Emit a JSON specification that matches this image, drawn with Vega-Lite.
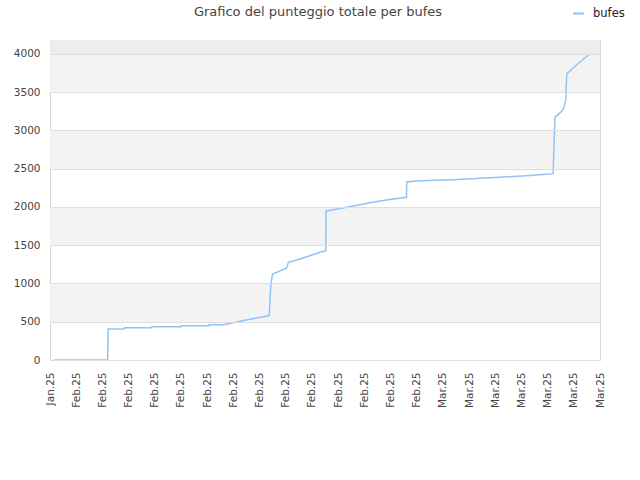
{
  "$schema": "https://vega.github.io/schema/vega-lite/v6.json",
  "description": "Grafico del punteggio totale per bufes",
  "autosize": "none",
  "width": 550,
  "height": 320,
  "padding": {"left": 50, "top": 40, "right": 40, "bottom": 120},
  "background": "white",
  "title": {
    "text": "Grafico del punteggio totale per bufes",
    "anchor": "middle",
    "frame": "group",
    "dx": -7,
    "dy": 12,
    "offset": 0,
    "font": "DejaVu Sans",
    "fontSize": 13,
    "fontWeight": "normal",
    "color": "#444444"
  },
  "datasets": {
    "bands": [
      {"y0": 500, "y1": 1000, "band": "a"},
      {"y0": 1500, "y1": 2000, "band": "a"},
      {"y0": 2500, "y1": 3000, "band": "a"},
      {"y0": 3500, "y1": 4000, "band": "a"},
      {"y0": 4000, "y1": 4183, "band": "b"}
    ],
    "points": [
      {"i": 0.16, "punti": 0, "player": "bufes"},
      {"i": 2.2, "punti": 0, "player": "bufes"},
      {"i": 2.22, "punti": 405, "player": "bufes"},
      {"i": 2.83, "punti": 405, "player": "bufes"},
      {"i": 2.84, "punti": 423, "player": "bufes"},
      {"i": 3.88, "punti": 423, "player": "bufes"},
      {"i": 3.89, "punti": 436, "player": "bufes"},
      {"i": 5.0, "punti": 436, "player": "bufes"},
      {"i": 5.01, "punti": 449, "player": "bufes"},
      {"i": 6.07, "punti": 449, "player": "bufes"},
      {"i": 6.08, "punti": 462, "player": "bufes"},
      {"i": 6.64, "punti": 462, "player": "bufes"},
      {"i": 7.0, "punti": 488, "player": "bufes"},
      {"i": 7.32, "punti": 510, "player": "bufes"},
      {"i": 7.64, "punti": 532, "player": "bufes"},
      {"i": 7.95, "punti": 553, "player": "bufes"},
      {"i": 8.37, "punti": 579, "player": "bufes"},
      {"i": 8.43, "punti": 980, "player": "bufes"},
      {"i": 8.49, "punti": 1120, "player": "bufes"},
      {"i": 9.04, "punti": 1203, "player": "bufes"},
      {"i": 9.05, "punti": 1215, "player": "bufes"},
      {"i": 9.1, "punti": 1277, "player": "bufes"},
      {"i": 9.55, "punti": 1320, "player": "bufes"},
      {"i": 10.31, "punti": 1408, "player": "bufes"},
      {"i": 10.53, "punti": 1429, "player": "bufes"},
      {"i": 10.54, "punti": 1948, "player": "bufes"},
      {"i": 10.91, "punti": 1970, "player": "bufes"},
      {"i": 11.33, "punti": 1996, "player": "bufes"},
      {"i": 11.77, "punti": 2026, "player": "bufes"},
      {"i": 12.22, "punti": 2056, "player": "bufes"},
      {"i": 12.66, "punti": 2082, "player": "bufes"},
      {"i": 13.11, "punti": 2105, "player": "bufes"},
      {"i": 13.61, "punti": 2127, "player": "bufes"},
      {"i": 13.62, "punti": 2327, "player": "bufes"},
      {"i": 14.0, "punti": 2340, "player": "bufes"},
      {"i": 14.7, "punti": 2349, "player": "bufes"},
      {"i": 15.4, "punti": 2357, "player": "bufes"},
      {"i": 16.1, "punti": 2370, "player": "bufes"},
      {"i": 16.8, "punti": 2383, "player": "bufes"},
      {"i": 17.5, "punti": 2396, "player": "bufes"},
      {"i": 18.2, "punti": 2409, "player": "bufes"},
      {"i": 18.9, "punti": 2427, "player": "bufes"},
      {"i": 19.21, "punti": 2436, "player": "bufes"},
      {"i": 19.28, "punti": 3172, "player": "bufes"},
      {"i": 19.5, "punti": 3240, "player": "bufes"},
      {"i": 19.6, "punti": 3281, "player": "bufes"},
      {"i": 19.69, "punti": 3390, "player": "bufes"},
      {"i": 19.73, "punti": 3739, "player": "bufes"},
      {"i": 19.98, "punti": 3821, "player": "bufes"},
      {"i": 20.24, "punti": 3895, "player": "bufes"},
      {"i": 20.57, "punti": 3991, "player": "bufes"}
    ]
  },
  "layer": [
    {
      "data": {"name": "bands"},
      "mark": {"type": "rect", "clip": true},
      "encoding": {
        "y": {
          "field": "y0",
          "type": "quantitative",
          "scale": {"domain": [0, 4183], "nice": false},
          "axis": {
            "title": null,
            "values": [0, 500, 1000, 1500, 2000, 2500, 3000, 3500, 4000],
            "format": "d",
            "labelFont": "DejaVu Sans",
            "labelFontSize": 10.5,
            "labelColor": "#444444",
            "labelPadding": 10,
            "ticks": false,
            "domain": false,
            "grid": true,
            "gridColor": "#dddddd",
            "gridWidth": 1,
            "zindex": 1
          }
        },
        "y2": {"field": "y1"},
        "color": {
          "field": "band",
          "type": "nominal",
          "scale": {"domain": ["a", "b"], "range": ["#f3f3f3", "#ededed"]},
          "legend": null
        }
      }
    },
    {
      "data": {"name": "points"},
      "mark": {"type": "line", "strokeWidth": 1.5, "interpolate": "linear", "clip": true},
      "encoding": {
        "x": {
          "field": "i",
          "type": "quantitative",
          "scale": {"domain": [0, 21], "nice": false, "zero": false},
          "axis": {
            "title": null,
            "values": [0, 1, 2, 3, 4, 5, 6, 7, 8, 9, 10, 11, 12, 13, 14, 15, 16, 17, 18, 19, 20, 21],
            "labelExpr": "datum.value == 0 ? 'Jan.25' : (datum.value <= 14 ? 'Feb.25' : 'Mar.25')",
            "labelAngle": -90,
            "labelAlign": "right",
            "labelBaseline": "middle",
            "labelPadding": 12,
            "labelFont": "DejaVu Sans",
            "labelFontSize": 10.5,
            "labelColor": "#444444",
            "labelOverlap": false,
            "labelBound": false,
            "labelFlush": false,
            "ticks": false,
            "grid": false,
            "domain": false
          }
        },
        "y": {
          "field": "punti",
          "type": "quantitative",
          "scale": {"domain": [0, 4183], "nice": false},
          "axis": {
            "title": null,
            "values": [0, 500, 1000, 1500, 2000, 2500, 3000, 3500, 4000],
            "format": "d",
            "labelFont": "DejaVu Sans",
            "labelFontSize": 10.5,
            "labelColor": "#444444",
            "labelPadding": 10,
            "ticks": false,
            "domain": false,
            "grid": true,
            "gridColor": "#dddddd",
            "gridWidth": 1,
            "zindex": 1
          }
        },
        "color": {
          "field": "player",
          "type": "nominal",
          "scale": {"domain": ["bufes"], "range": ["#90c3f5"]},
          "legend": {
            "title": null,
            "orient": "none",
            "legendX": 522,
            "legendY": -33,
            "symbolType": "stroke",
            "symbolSize": 120,
            "symbolStrokeWidth": 2,
            "labelOffset": 8,
            "labelFont": "DejaVu Sans",
            "labelFontSize": 11.5,
            "labelColor": "#222222"
          }
        }
      }
    }
  ],
  "resolve": {"scale": {"color": "independent"}},
  "config": {
    "view": {"stroke": "#d5d5d5", "strokeWidth": 1}
  }
}
